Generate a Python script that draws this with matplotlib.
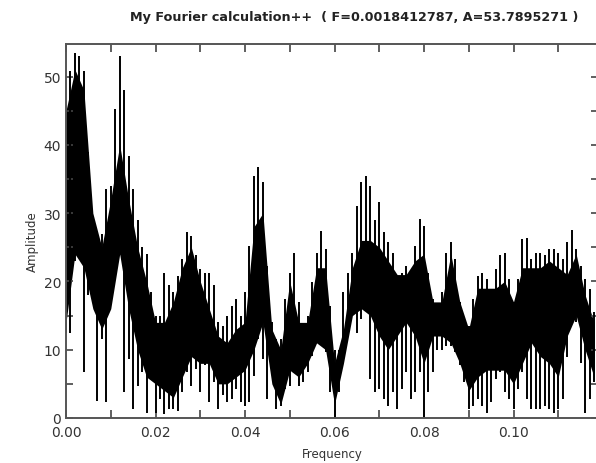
import numpy as np
import matplotlib
matplotlib.use("Agg")
import matplotlib.pyplot as plt
from matplotlib.ticker import MultipleLocator

# spectrum, one vertical stroke every 0.001
freq_step = 0.001
tops = [44.7, 50.8, 53.5, 53.0, 50.8, 39.0, 26.0, 25.7, 27.0, 33.5, 34.0, 45.2, 53.0, 48.0, 38.4, 33.5,
        29.0, 25.0, 24.0, 18.4, 15.0, 15.0, 21.3, 19.4, 18.4, 20.8, 23.3, 27.2, 26.7, 23.8, 21.8, 21.3,
        21.3, 19.4, 14.0, 13.5, 15.0, 16.4, 17.4, 15.0, 18.4, 25.2, 35.4, 36.7, 34.5, 22.3, 14.0, 11.6,
        11.6, 17.4, 21.3, 24.2, 17.0, 11.6, 15.0, 19.9, 24.2, 27.4, 24.7, 16.4, 10.0, 10.0, 18.4, 21.3,
        24.2, 31.0, 34.5, 35.4, 34.0, 29.0, 31.6, 27.2, 25.7, 24.2, 20.8, 21.3, 22.3, 20.3, 25.2, 29.1,
        28.1, 21.3, 17.4, 15.0, 18.4, 24.2, 25.7, 23.3, 17.0, 13.5, 13.5, 17.4, 20.8, 21.3, 20.3, 17.4,
        21.8, 23.8, 24.2, 20.3, 17.0, 20.3, 26.2, 26.4, 23.3, 24.2, 24.2, 23.8, 24.7, 24.7, 24.2, 23.3,
        25.7, 27.5, 24.7, 22.3, 20.3, 18.9, 15.5]
bottoms = [12.5, 12.5, 23.0, 24.0, 6.7, 18.0, 17.4, 2.5, 11.6, 2.3, 18.4, 23.3, 24.0, 3.8, 8.6, 1.3,
           4.7, 6.7, 0.8, 6.2, 0.8, 2.8, 0.6, 1.3, 1.3, 1.0, 3.8, 6.7, 4.7, 7.2, 3.8, 7.7,
           2.3, 5.2, 1.3, 3.3, 2.3, 2.8, 4.2, 2.3, 1.8, 2.3, 6.2, 11.6, 8.6, 2.8, 6.7, 1.3,
           1.8, 4.2, 4.7, 7.2, 4.7, 5.2, 6.7, 9.1, 12.0, 12.5, 9.6, 3.8, 0.1, 3.8, 8.6, 12.0,
           17.0, 12.5, 14.5, 18.4, 5.7, 3.8, 4.2, 2.8, 1.8, 3.8, 1.3, 4.2, 6.7, 2.8, 3.8, 6.7,
           0.1, 3.8, 6.7, 10.0, 10.0, 10.6, 10.6, 9.6, 7.7, 5.2, 1.3, 1.8, 2.8, 1.8, 0.8, 2.3,
           5.7, 6.7, 3.8, 2.8, 1.3, 4.2, 6.7, 2.8, 1.3, 1.3, 1.3, 1.8, 1.3, 0.8, 1.3, 2.8,
           9.0, 15.5, 14.0, 8.1, 0.8, 2.8, 5.2]

# solid black band where the strokes merge, every 0.002
body_step = 0.002
body_hi = [45, 51, 48, 30, 25, 32, 40, 32, 25, 20, 14, 14, 17, 22, 25, 20, 16, 12, 11, 13,
           14, 28, 30, 13, 10, 20, 14, 14, 22, 22, 8, 13, 22, 26, 26, 25, 23, 21, 21, 23,
           24, 17, 17, 24, 17, 13, 19, 19, 19, 20, 17, 22, 22, 22, 23, 22, 21, 24, 18, 14]
body_lo = [14, 24, 22, 16, 13, 16, 24, 16, 10, 6, 5, 4, 3, 6, 9, 8, 8, 5, 5, 6,
           7, 10, 14, 5, 2, 7, 6, 8, 11, 10, 2, 8, 15, 16, 15, 12, 10, 12, 14, 12,
           8, 12, 12, 11, 8, 4, 6, 7, 7, 7, 5, 8, 11, 9, 8, 6, 12, 15, 10, 6]

title = "My Fourier calculation++  ( F=0.0018412787, A=53.7895271 )"

freq = np.arange(len(tops)) * freq_step
body_freq = np.arange(len(body_hi)) * body_step

fig = plt.figure(figsize=(5.96, 4.64), dpi=100)
ax = fig.add_axes([66 / 596, 1 - 419 / 464, 532 / 596, 374 / 464])

ax.fill_between(body_freq, body_lo, body_hi, color="black", linewidth=0)
ax.vlines(freq, bottoms, tops, color="black", linewidth=1.4)

ax.set_xlim(0, 532 / 4475)
ax.set_ylim(0, 374 / 6.83)

ax.xaxis.set_major_locator(MultipleLocator(0.02))
ax.xaxis.set_minor_locator(MultipleLocator(0.01))
ax.yaxis.set_major_locator(MultipleLocator(10))
ax.yaxis.set_minor_locator(MultipleLocator(5))
ax.xaxis.set_major_formatter(plt.FuncFormatter(lambda v, p: f"{v:.2f}"))

ax.tick_params(which="both", direction="in", top=True, right=True, length=5,
               width=1.2, color="#444444", labelsize=10, labelcolor="#333333")
ax.tick_params(axis="x", which="both", length=6, pad=5)
for s in ax.spines.values():
    s.set_color("#555555")
    s.set_linewidth(1.4)

fig.text(354 / 596, 1 - 18 / 464, title, ha="center", va="center",
         fontsize=9.2, fontweight="bold", color="#222222")
fig.text(332 / 596, 1 - 455 / 464, "Frequency", ha="center", va="center",
         fontsize=8.5, color="#333333")
fig.text(32 / 596, 1 - 242 / 464, "Amplitude", ha="center", va="center",
         rotation=90, fontsize=8.5, color="#333333")

fig.savefig("out.png", dpi=100)
